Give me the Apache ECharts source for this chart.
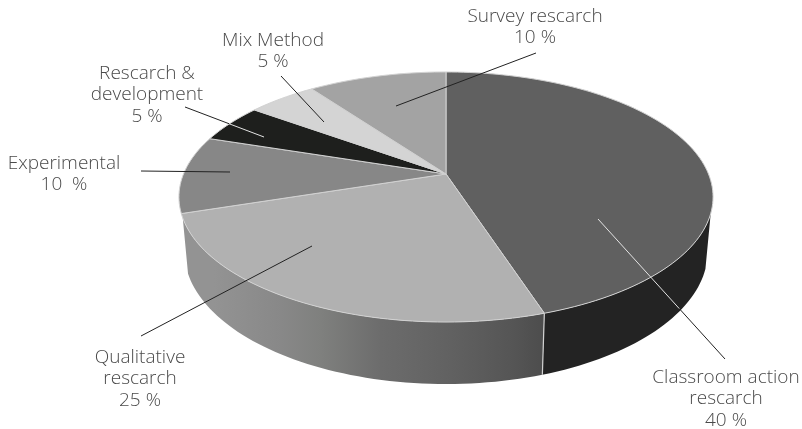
<!DOCTYPE html>
<html><head><meta charset="utf-8">
<style>html,body{margin:0;padding:0;background:#fff}#c{width:802px;height:429px}</style>
<script src="https://cdn.jsdelivr.net/npm/echarts@6/dist/echarts.min.js"></script>
</head><body><div id="c"></div>
<script>
// Data: drawn wedge shares and the printed labels
const categories = ['Classroom action\nrescarch', 'Qualitative\nrescarch', 'Experimental', 'Rescarch &\ndevelopment', 'Mix Method', 'Survey rescarch'];
const drawnShares = [45, 25, 10, 5, 5, 10];
const printedLabels = ['40 %', '25 %', '10  %', '5 %', '5 %', '10 %'];

// Style and layout, separate from the data
const topColors = ['#606060', '#b1b1b1', '#878787', '#1e1f1d', '#d4d4d4', '#a3a3a3'];
const TEXT = '#4a4a4a', SEAM = '#d2d2d2';
const labelAt = [[726, 399], [140, 379], [64, 174], [147, 95], [273, 51], [535, 27]];
const leaderFrom = [[725, 359], [141, 336], [141, 171], [185, 107], [281, 76], [536, 53]];
const leaderTo = [[598, 219], [312, 246], [230, 172], [264, 137], [324, 122], [396, 106]];
// share of each leader (from its outer end) drawn dark; the rest is light where it lies on a dark wedge
const darkPart = [0.36, 1, 1, 0.56, 1, 1];

// Perspective projection of the round pie on to the page
const P = {cx: 446, cy: 174, A: 262.5, B: 120.8, k: 0.184, drop: 53, lowScale: 0.98};
function project(deg, low) {
  const t = deg * Math.PI / 180, u = Math.sin(t), v = -Math.cos(t), w = 1 - P.k * v;
  const s = low ? P.lowScale : 1;
  return [P.cx + s * P.A * u / w, P.cy + (s * P.B * v + (low ? P.drop : 0)) / w];
}
function arc(a, b, low) {
  const n = Math.max(2, Math.ceil(Math.abs(b - a) / 1.5)), out = [];
  for (let i = 0; i <= n; i++) out.push(project(a + (b - a) * i / n, low));
  return out;
}
const total = drawnShares.reduce((s, v) => s + v, 0);
function angles(i) {
  let a = 0;
  for (let j = 0; j < i; j++) a += drawnShares[j];
  return [a / total * 360, (a + drawnShares[i]) / total * 360];
}
const WALL_FROM = 108, WALL_TO = 250;
const wallFill = [
  '#232323',
  new echarts.graphic.LinearGradient(185, 0, 542, 0, [
    {offset: 0, color: '#939393'}, {offset: 0.08, color: '#939393'}, {offset: 0.27, color: '#888888'},
    {offset: 0.38, color: '#7f807e'}, {offset: 0.55, color: '#6c6c6c'}, {offset: 0.73, color: '#626262'},
    {offset: 0.92, color: '#555555'}, {offset: 1, color: '#4d4d4d'}
  ], true),
  '#8e8e8e', '#8e8e8e', '#8e8e8e', '#8e8e8e'
];

function renderWall(params, api) {
  const i = api.value(1), [a, b] = angles(i);
  const s = Math.max(a, WALL_FROM), e = Math.min(b, WALL_TO);
  if (e <= s) return {type: 'group', children: []};
  const pts = arc(s, e, false).concat(arc(e, s, true));
  const kids = [{type: 'polygon', shape: {points: pts}, style: {fill: wallFill[i], stroke: null}}];
  if (a >= WALL_FROM && a < WALL_TO) {
    const p = project(a, false), q = project(a, true);
    kids.push({type: 'line', z2: 5, shape: {x1: p[0], y1: p[1], x2: q[0], y2: q[1]}, style: {stroke: SEAM, lineWidth: 1.2}});
  }
  return {type: 'group', children: kids};
}
function renderTop(params, api) {
  const i = api.value(1), [a, b] = angles(i);
  const pts = [[P.cx, P.cy]].concat(arc(a, b, false));
  return {type: 'polygon', shape: {points: pts}, style: {fill: topColors[i], stroke: SEAM, lineWidth: 1, lineJoin: 'round'}};
}
function renderNote(params, api) {
  const i = api.value(1), f = leaderFrom[i], t = leaderTo[i], c = labelAt[i], d = darkPart[i];
  const m = [f[0] + (t[0] - f[0]) * d, f[1] + (t[1] - f[1]) * d];
  const kids = [{type: 'line', shape: {x1: f[0], y1: f[1], x2: m[0], y2: m[1]}, style: {stroke: '#222222', lineWidth: 1}}];
  if (d < 1) kids.push({type: 'line', shape: {x1: m[0], y1: m[1], x2: t[0], y2: t[1]}, style: {stroke: '#e4e4e4', lineWidth: 1}});
  kids.push({type: 'text', style: {
    text: categories[i] + '\n' + printedLabels[i], x: c[0], y: c[1], align: 'center', verticalAlign: 'middle',
    fill: TEXT, fontFamily: '"Open Sans"', fontSize: 19, fontWeight: 300, lineHeight: 21.5
  }});
  return {type: 'group', children: kids};
}
const rows = drawnShares.map((v, i) => [v, i]);
const chart = echarts.init(document.getElementById('c'), null, {renderer: 'canvas'});
chart.setOption({
  animation: false,
  backgroundColor: '#ffffff',
  series: [
    {type: 'custom', coordinateSystem: 'none', silent: true, z: 1, data: rows, renderItem: renderWall},
    {type: 'custom', coordinateSystem: 'none', silent: true, z: 2, data: rows, renderItem: renderTop},
    {type: 'custom', coordinateSystem: 'none', silent: true, z: 3, data: rows, renderItem: renderNote}
  ]
});
</script></body></html>
